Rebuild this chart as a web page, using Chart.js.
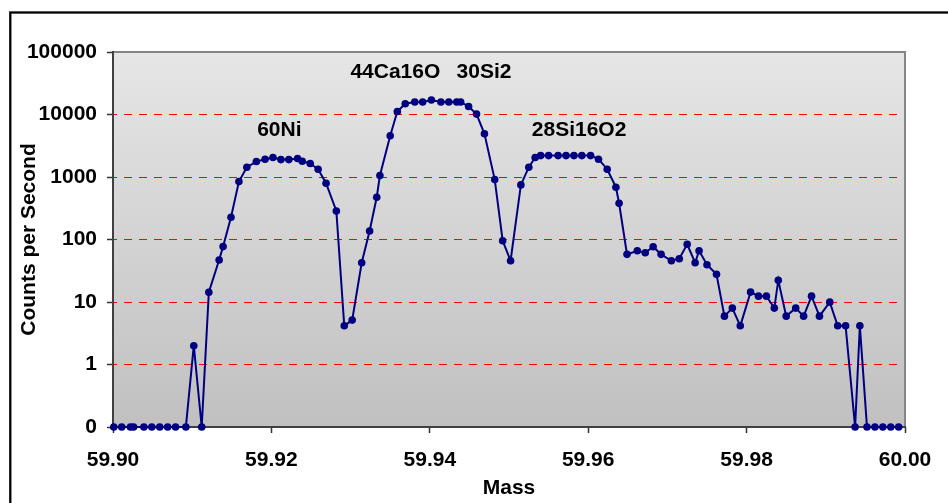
<!DOCTYPE html>
<html>
<head>
<meta charset="utf-8">
<title>Counts per Second vs Mass</title>
<script src="https://cdn.jsdelivr.net/npm/chart.js@4.4.1/dist/chart.umd.min.js"></script>
<style>
  html, body { margin: 0; padding: 0; background: #fff; }
  canvas { display: block; }
</style>
</head>
<body>
<canvas id="massChart" width="948" height="503"></canvas>
<script>
// scan positions (mass) and count rates; bottom points sit on the 0.1 floor ("0")
var mass = [
    59.9001, 59.9011, 59.9022, 59.9026, 59.9039, 59.9049, 59.9059, 59.9069, 59.9079, 59.9092,
    59.9102, 59.9112, 59.9121, 59.9134, 59.9139, 59.9149, 59.9159, 59.9169, 59.9181, 59.9192,
    59.9202, 59.9212, 59.9222, 59.9233, 59.9239, 59.9249, 59.9259, 59.9269, 59.9282, 59.9292,
    59.9302, 59.9314, 59.9324, 59.9333, 59.9337, 59.9350, 59.9359, 59.9369, 59.9381, 59.9391,
    59.9402, 59.9414, 59.9424, 59.9434, 59.9439, 59.9449, 59.9459, 59.9469, 59.9482, 59.9492,
    59.9502, 59.9515, 59.9525, 59.9533, 59.9540, 59.9550, 59.9562, 59.9572, 59.9582, 59.9592,
    59.9603, 59.9613, 59.9624, 59.9635, 59.9639, 59.9649, 59.9662, 59.9672, 59.9682, 59.9692,
    59.9705, 59.9715, 59.9725, 59.9735, 59.9740, 59.9750, 59.9762, 59.9772, 59.9782, 59.9792,
    59.9805, 59.9815, 59.9825, 59.9835, 59.9840, 59.9850, 59.9862, 59.9872, 59.9882, 59.9892,
    59.9905, 59.9915, 59.9925, 59.9937, 59.9943, 59.9952, 59.9962, 59.9972, 59.9982, 59.9992
];
var counts = [
    0.1, 0.1, 0.1, 0.1, 0.1, 0.1, 0.1, 0.1, 0.1, 0.1,
    2.0, 0.1, 14.3, 47, 77, 227, 844, 1436, 1766, 1928,
    2046, 1900, 1900, 1972, 1790, 1641, 1333, 796, 286, 4.16,
    5.13, 42.5, 137, 474, 1054, 4560, 11170, 14830, 15810, 15810,
    17020, 15810, 15810, 15810, 15810, 13430, 10140, 4910, 908, 95.7,
    45.7, 747, 1436, 2046, 2200, 2200, 2200, 2200, 2200, 2200,
    2200, 1928, 1333, 687, 380, 57.9, 66.2, 61.4, 76.7, 57.9,
    45.7, 49.2, 83.8, 42.5, 66.2, 39.5, 27.7, 5.94, 7.98, 4.16,
    14.4, 12.4, 12.4, 7.98, 22.2, 5.94, 7.98, 5.94, 12.4, 5.94,
    9.95, 4.16, 4.16, 0.1, 4.16, 0.1, 0.1, 0.1, 0.1, 0.1
];
var yTicks = [0.1, 1, 10, 100, 1000, 10000, 100000];
var xTicks = [59.90, 59.92, 59.94, 59.96, 59.98, 60.00];

// peak labels, anchored in data coordinates
var peakText = ["60Ni", "44Ca16O", "30Si2", "28Si16O2"];
var peakMass = [59.9210, 59.93565, 59.94685, 59.95885];
var peakCounts = [5700, 47000, 47000, 5700];

var FONT = "'Liberation Sans', Arial, sans-serif";

var points = [];
for (var i = 0; i < mass.length; i++) {
    points.push({x: mass[i], y: counts[i]});
}

var framePlugin = {
    id: 'frame',
    beforeDraw: function (chart) {
        var ctx = chart.ctx, a = chart.chartArea;
        ctx.save();
        ctx.fillStyle = '#ffffff';
        ctx.fillRect(0, 0, chart.width, chart.height);
        // outer border (runs off the right and bottom edges)
        ctx.strokeStyle = '#000000';
        ctx.lineWidth = 2.3;
        ctx.strokeRect(10.3, 12.5, chart.width + 20, chart.height + 20);
        // plot background
        var g = ctx.createLinearGradient(0, a.top, 0, a.bottom);
        g.addColorStop(0, '#e6e6e6');
        g.addColorStop(1, '#c0c0c0');
        ctx.fillStyle = g;
        ctx.fillRect(a.left, a.top, a.right - a.left, a.bottom - a.top);
        ctx.restore();
    },
    beforeDatasetsDraw: function (chart) {
        var ctx = chart.ctx, a = chart.chartArea;
        ctx.save();
        ctx.lineWidth = 2;
        ctx.strokeStyle = '#858585';
        ctx.beginPath();
        ctx.moveTo(a.left, a.top);
        ctx.lineTo(a.right, a.top);
        ctx.lineTo(a.right, a.bottom);
        ctx.stroke();
        ctx.strokeStyle = '#404040';
        ctx.beginPath();
        ctx.moveTo(a.left, a.top - 1);
        ctx.lineTo(a.left, a.bottom);
        ctx.lineTo(a.right + 1, a.bottom);
        ctx.stroke();
        ctx.restore();
    },
    afterDraw: function (chart) {
        var ctx = chart.ctx;
        var xs = chart.scales.x, ys = chart.scales.y;
        ctx.save();
        ctx.font = 'bold 21px ' + FONT;
        ctx.fillStyle = '#000000';
        ctx.textAlign = 'center';
        ctx.textBaseline = 'middle';
        for (var k = 0; k < peakText.length; k++) {
            ctx.fillText(peakText[k], xs.getPixelForValue(peakMass[k]), ys.getPixelForValue(peakCounts[k]));
        }
        ctx.restore();
    }
};

new Chart(document.getElementById('massChart').getContext('2d'), {
    type: 'line',
    data: {
        datasets: [{
            data: points,
            borderColor: '#000080',
            borderWidth: 2,
            backgroundColor: '#000080',
            pointRadius: 3.8,
            pointBackgroundColor: '#000080',
            pointBorderWidth: 0,
            tension: 0,
            clip: false
        }]
    },
    options: {
        responsive: false,
        animation: false,
        devicePixelRatio: 1,
        layout: { padding: { top: 52, right: 43, left: 0, bottom: 0 } },
        plugins: {
            legend: { display: false },
            tooltip: { enabled: false }
        },
        scales: {
            x: {
                type: 'linear',
                min: 59.90,
                max: 60.00,
                afterBuildTicks: function (scale) {
                    scale.ticks = xTicks.map(function (v) { return {value: v}; });
                },
                afterFit: function (scale) { scale.height = 76; },
                ticks: {
                    autoSkip: false,
                    maxRotation: 0,
                    padding: 15,
                    color: '#000000',
                    font: { family: FONT, size: 21, weight: 'bold' },
                    callback: function (v) { return Number(v).toFixed(2); }
                },
                grid: {
                    drawOnChartArea: false,
                    tickLength: 6,
                    tickColor: '#333333',
                    tickWidth: 1.5
                },
                border: { display: false },
                title: {
                    display: true,
                    text: 'Mass',
                    color: '#000000',
                    font: { family: FONT, size: 21, weight: 'bold' },
                    padding: { top: 0, bottom: 2 }
                }
            },
            y: {
                type: 'logarithmic',
                min: 0.1,
                max: 100000,
                afterBuildTicks: function (scale) {
                    scale.ticks = yTicks.map(function (v) { return {value: v}; });
                },
                afterFit: function (scale) { scale.width = 113; },
                ticks: {
                    autoSkip: false,
                    padding: 10,
                    color: '#000000',
                    font: { family: FONT, size: 21, weight: 'bold' },
                    callback: function (v) { return v < 1 ? '0' : String(Math.round(v)); }
                },
                grid: {
                    color: function (c) {
                        var v = c.tick ? c.tick.value : 0;
                        return (v <= 0.1 || v >= 100000) ? 'rgba(0,0,0,0)' : '#ff0000';
                    },
                    lineWidth: 1,
                    tickLength: 6,
                    tickColor: '#333333',
                    tickWidth: 1.5,
                    tickBorderDash: []
                },
                border: { display: false, dash: [8, 7], dashOffset: 4 },
                title: {
                    display: true,
                    text: 'Counts per Second',
                    color: '#000000',
                    font: { family: FONT, size: 21, weight: 'bold' },
                    padding: { top: 17, bottom: 0 }
                }
            }
        }
    },
    plugins: [framePlugin]
});
</script>
</body>
</html>
